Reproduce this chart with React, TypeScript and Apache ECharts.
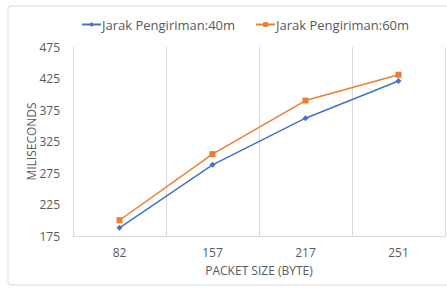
import React, { useEffect, useRef } from "react";
import * as echarts from "echarts";

const categories = ["82", "157", "217", "251"];
const series40 = [188, 288, 362, 421];
const series60 = [200, 305, 390, 431];
const seriesNames = ["Jarak Pengiriman:40m", "Jarak Pengiriman:60m"];

export default function App() {
  const ref = useRef<HTMLDivElement>(null);
  useEffect(() => {
    if (!ref.current) return;
    const chart = echarts.init(ref.current, undefined, { renderer: "svg" });
    const font = "'Open Sans', 'Liberation Sans', sans-serif";
    chart.setOption({
      animation: false,
      backgroundColor: "#ffffff",
      textStyle: { fontFamily: font },
      graphic: [
        {
          type: "rect",
          shape: { x: 8, y: 6, width: 450, height: 279, r: 3 },
          style: { fill: "none", stroke: "#d9d9d9", lineWidth: 1 },
          silent: true,
        },
      ],
      legend: {
        top: 13,
        left: 76,
        itemWidth: 19,
        itemHeight: 6,
        itemGap: 20,
        textStyle: { color: "#595959", fontSize: 13, fontFamily: font, padding: [0, 0, 0, -4] },
        data: seriesNames,
      },
      grid: { left: 73, right: 2, top: 47, bottom: 55, containLabel: false },
      xAxis: {
        type: "category",
        data: categories,
        boundaryGap: true,
        name: "PACKET SIZE (BYTE)",
        nameLocation: "middle",
        nameGap: 28,
        nameMoveOverlap: false,
        nameTextStyle: { color: "#595959", fontSize: 12, fontFamily: font },
        axisLine: { show: true, lineStyle: { color: "#d9d9d9" } },
        axisTick: { show: false },
        axisLabel: { color: "#595959", fontSize: 12, margin: 10, fontFamily: font },
        splitLine: { show: true, lineStyle: { color: "#d9d9d9" } },
      },
      yAxis: {
        type: "value",
        min: 175,
        max: 475,
        interval: 50,
        name: "MILISECONDS",
        nameLocation: "middle",
        nameGap: 36,
        nameMoveOverlap: false,
        nameTextStyle: { color: "#595959", fontSize: 12, fontFamily: font },
        axisLine: { show: false },
        axisTick: { show: false },
        axisLabel: { color: "#595959", fontSize: 12, margin: 13, fontFamily: font },
        splitLine: { show: false },
      },
      series: [
        {
          name: seriesNames[0],
          type: "line",
          data: series40,
          symbol: "diamond",
          symbolSize: 6,
          itemStyle: { color: "#4472C4" },
          lineStyle: { color: "#4472C4", width: 1.5 },
        },
        {
          name: seriesNames[1],
          type: "line",
          data: series60,
          symbol: "rect",
          symbolSize: 6,
          itemStyle: { color: "#ED7D31" },
          lineStyle: { color: "#ED7D31", width: 1.5 },
        },
      ],
    });
    return () => chart.dispose();
  }, []);
  return (
    <div
      ref={ref}
      style={{ position: "fixed", left: 0, top: 0, width: 447, height: 291 }}
    />
  );
}
